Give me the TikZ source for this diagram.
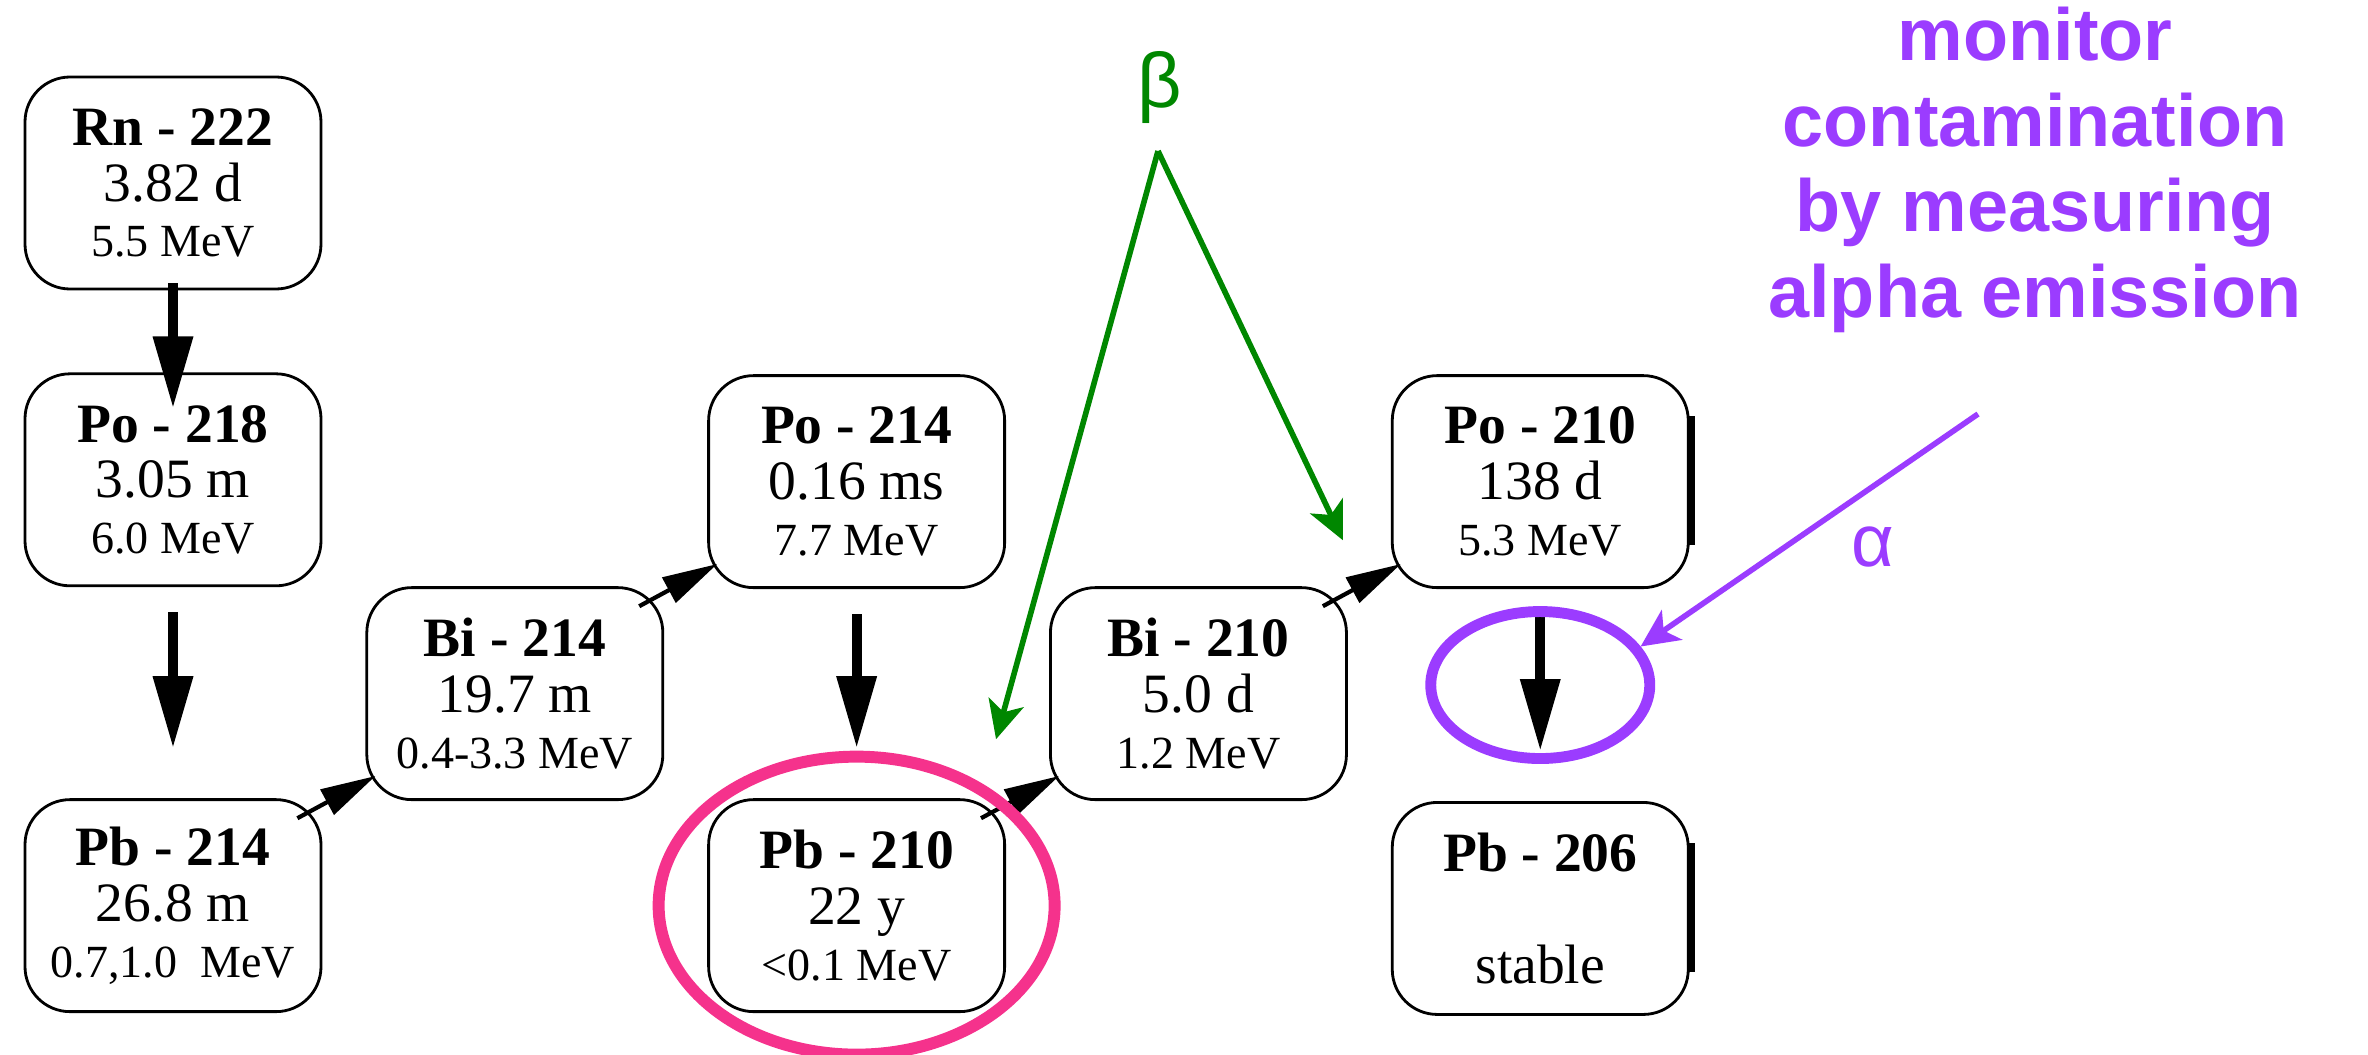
\documentclass[tikz,border=0pt]{standalone}
\usepackage{fontspec}
\setmainfont{Liberation Serif}
\newfontfamily\notefont{Liberation Sans}
\usetikzlibrary{shapes.geometric, arrows.meta, positioning, calc}
\definecolor{notepurple}{RGB}{155,60,255}
\definecolor{ringpink}{RGB}{245,50,140}
\definecolor{betagreen}{RGB}{0,135,0}
\newcommand{\evline}[1]{{\fontsize{13.1}{15.9}\selectfont #1}}

\begin{document}
\begin{tikzpicture}[
    node distance=0.43cm,
    % --- BASE STYLES ---
    nuclide/.style={rectangle, rounded corners=0.45cm, draw=black, line width=0.8pt, minimum width=2.96cm, minimum height=2.12cm, inner sep=0pt, align=center, font=\fontsize{15.8}{15.9}\selectfont},
    mainchain/.style={line width=2.8pt, -{Triangle[length=0.72cm, width=0.38cm]}},
    sidestep/.style={line width=1.2pt, -{Triangle[length=0.55cm, width=0.28cm]}},
    cropedge/.style={line width=1.8pt},
    % --- ANNOTATION STYLES ---
    ringmark/.style={ellipse, draw=#1, line width=3.1pt, inner sep=0pt},
    notearrow/.style={draw=#1, line width=1.6pt, -{Stealth[length=0.38cm, width=0.36cm, inset=0.1cm]}},
    notelabel/.style={text=#1, font=\notefont\fontsize{21}{24.4}\selectfont, inner sep=0pt, align=center}
]
\useasboundingbox (0,0) rectangle (23.68,-10.54);

% ==========================================
% DECAY CHAIN BOXES
% ==========================================
\node[nuclide] (rn_222) at (1.73,-1.83) {\textbf{Rn - 222}\\3.82 d\\\evline{5.5 MeV}};
\node[nuclide, below=0.82cm of rn_222] (po_218) {\textbf{Po - 218}\\3.05 m\\\evline{6.0 MeV}};
\node[nuclide, below=2.11cm of po_218] (pb_214) {\textbf{Pb - 214}\\26.8 m\\\evline{0.7,1.0\ \ MeV}};
\node[nuclide, right=of pb_214, yshift=2.12cm] (bi_214) {\textbf{Bi - 214}\\19.7 m\\\evline{0.4-3.3 MeV}};
\node[nuclide, right=of bi_214, yshift=2.12cm] (po_214) {\textbf{Po - 214}\\0.16 ms\\\evline{7.7 MeV}};
\node[nuclide, right=of bi_214, yshift=-2.12cm] (pb_210) {\textbf{Pb - 210}\\22 y\\\evline{<0.1 MeV}};
\node[nuclide, right=of pb_210, yshift=2.12cm] (bi_210) {\textbf{Bi - 210}\\5.0 d\\\evline{1.2 MeV}};
\node[nuclide, right=of bi_210, yshift=2.12cm] (po_210) {\textbf{Po - 210}\\138 d\\\evline{5.3 MeV}};
\node[nuclide, below=2.12cm of po_210] (pb_206) {\textbf{Pb - 206}\\\mbox{}\\stable};

% heavy right edges of the last column
\foreach \n in {po_210, pb_206} {
    \draw[cropedge] ($(\n.north east)+(0.02,-0.42)$) -- ($(\n.south east)+(0.02,0.44)$);
}

% ==========================================
% DECAY ARROWS
% ==========================================
\draw[mainchain] ([yshift=0.07cm]rn_222.south) -- ([yshift=-0.36cm]po_218.north);
\foreach \a/\b in {po_218/pb_214, po_214/pb_210, po_210/pb_206} {
    \draw[mainchain] ([yshift=-0.25cm]\a.south) -- ([yshift=0.5cm]\b.north);
}
\foreach \a/\b in {pb_214/bi_214, bi_214/po_214, pb_210/bi_210, bi_210/po_210} {
    \draw[sidestep] ($(\a.north east)+(-0.25,-0.20)$) -- ($(\b.south west)+(0.10,0.25)$);
}

% ==========================================
% ANNOTATIONS
% ==========================================
\node[ringmark=ringpink, line width=3.4pt, minimum width=3.96cm, minimum height=2.98cm] (pb_ring) at (pb_210) {};
\node[ringmark=notepurple, minimum width=2.19cm, minimum height=1.47cm] (alpha_ring) at ($(po_210.south)!0.5!(pb_206.north)+(0,0.10)$) {};

% beta pointers
\node[notelabel=betagreen, font=\notefont\fontsize{22}{25}\selectfont] (beta_label) at (11.60,-0.88) {β};
\coordinate (beta_fork) at (11.58,-1.51);
\draw[notearrow=betagreen] (beta_fork) -- ($(pb_210.north east)+(-0.10,0.59)$);
\draw[notearrow=betagreen] (beta_fork) -- ($(bi_210.north east)+(-0.05,0.46)$);

% alpha note
\node[notelabel=notepurple] (alpha_note) at (20.35,-1.70) {\bfseries monitor\\\bfseries contamination\\\bfseries by measuring\\\bfseries alpha emission};
\coordinate (alpha_tail) at (19.78,-4.14);
\draw[notearrow=notepurple] (alpha_tail) -- (alpha_ring.21);
\node[notelabel=notepurple] (alpha_label) at (18.73,-5.47) {α};

\end{tikzpicture}
\end{document}
